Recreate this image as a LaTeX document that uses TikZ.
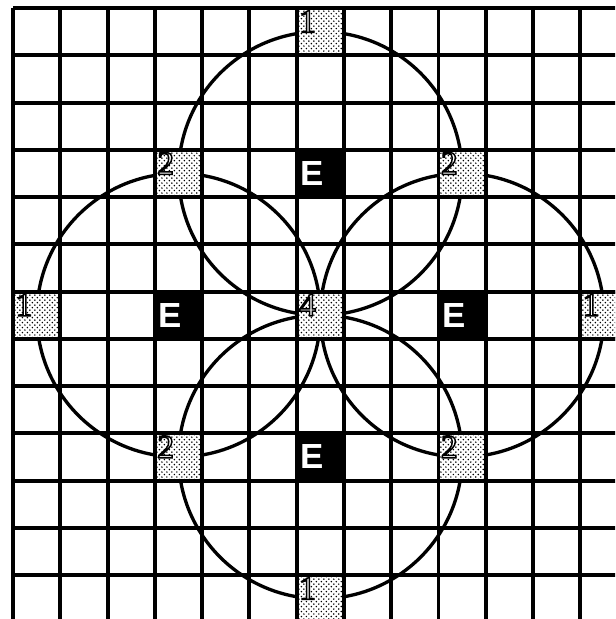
\documentclass[tikz,border=0pt]{standalone}
\usepackage{fontspec}
\setmainfont{Liberation Serif}
\setsansfont{Liberation Sans}
\usetikzlibrary{patterns}
% outlined digits: white fill, black stroke
\newcommand{\hollow}[1]{\special{pdf:literal direct 2 Tr 0.9 w 1 1 1 rg 0 0 0 RG}#1\special{pdf:literal direct 0 Tr 0 0 0 rg 0 0 0 RG}}

\begin{document}
\begin{tikzpicture}[
    gridline/.style={line width=2.4pt},
    ring/.style={line width=2pt},
    tally/.style={draw=black, line width=2.4pt, fill=white, postaction={pattern=crosshatch dots, pattern color=black}, minimum size=1cm, inner sep=0pt},
    emitter/.style={draw=black, line width=2.4pt, fill=black, minimum size=1cm, inner sep=0pt},
    count/.style={anchor=north west, inner sep=0pt, font=\fontsize{20}{20}\selectfont},
    elabel/.style={anchor=west, inner sep=0pt, text=white, font=\sffamily\bfseries\fontsize{21}{21}\selectfont}
]
    % Page edges
    \clip (-0.28, 0.17) rectangle (12.74, -12.93);
    
    % Grid
    \foreach \i in {0,...,12} {
        \draw[gridline] (\i, 0) -- (\i, -13);
    }
    \foreach \j in {0,...,12} {
        \draw[gridline] (0, -\j) -- (13, -\j);
    }
    
    % Emitter cells
    \foreach \c/\r in {6/3, 3/6, 9/6, 6/9} {
        \node[emitter] (e-\c-\r) at (\c+0.5, -\r-0.5) {};
        \node[elabel] (l-\c-\r) at ([xshift=0.12cm]e-\c-\r.west) {E};
    }
    
    % Circles round the emitters
    \foreach \c/\r in {6/3, 3/6, 9/6, 6/9} {
        \draw[ring] (e-\c-\r.center) circle (3);
    }
    
    % Shaded cells with counts
    \foreach \c/\r/\n in {6/0/1, 3/3/2, 9/3/2, 0/6/1, 6/6/4, 12/6/1, 3/9/2, 9/9/2, 6/12/1} {
        \node[tally] (t-\c-\r) at (\c+0.5, -\r-0.5) {};
        \node[count] (n-\c-\r) at ([xshift=2.5pt, yshift=-2.5pt]t-\c-\r.north west) {\hollow{\n}};
    }
\end{tikzpicture}
\end{document}
